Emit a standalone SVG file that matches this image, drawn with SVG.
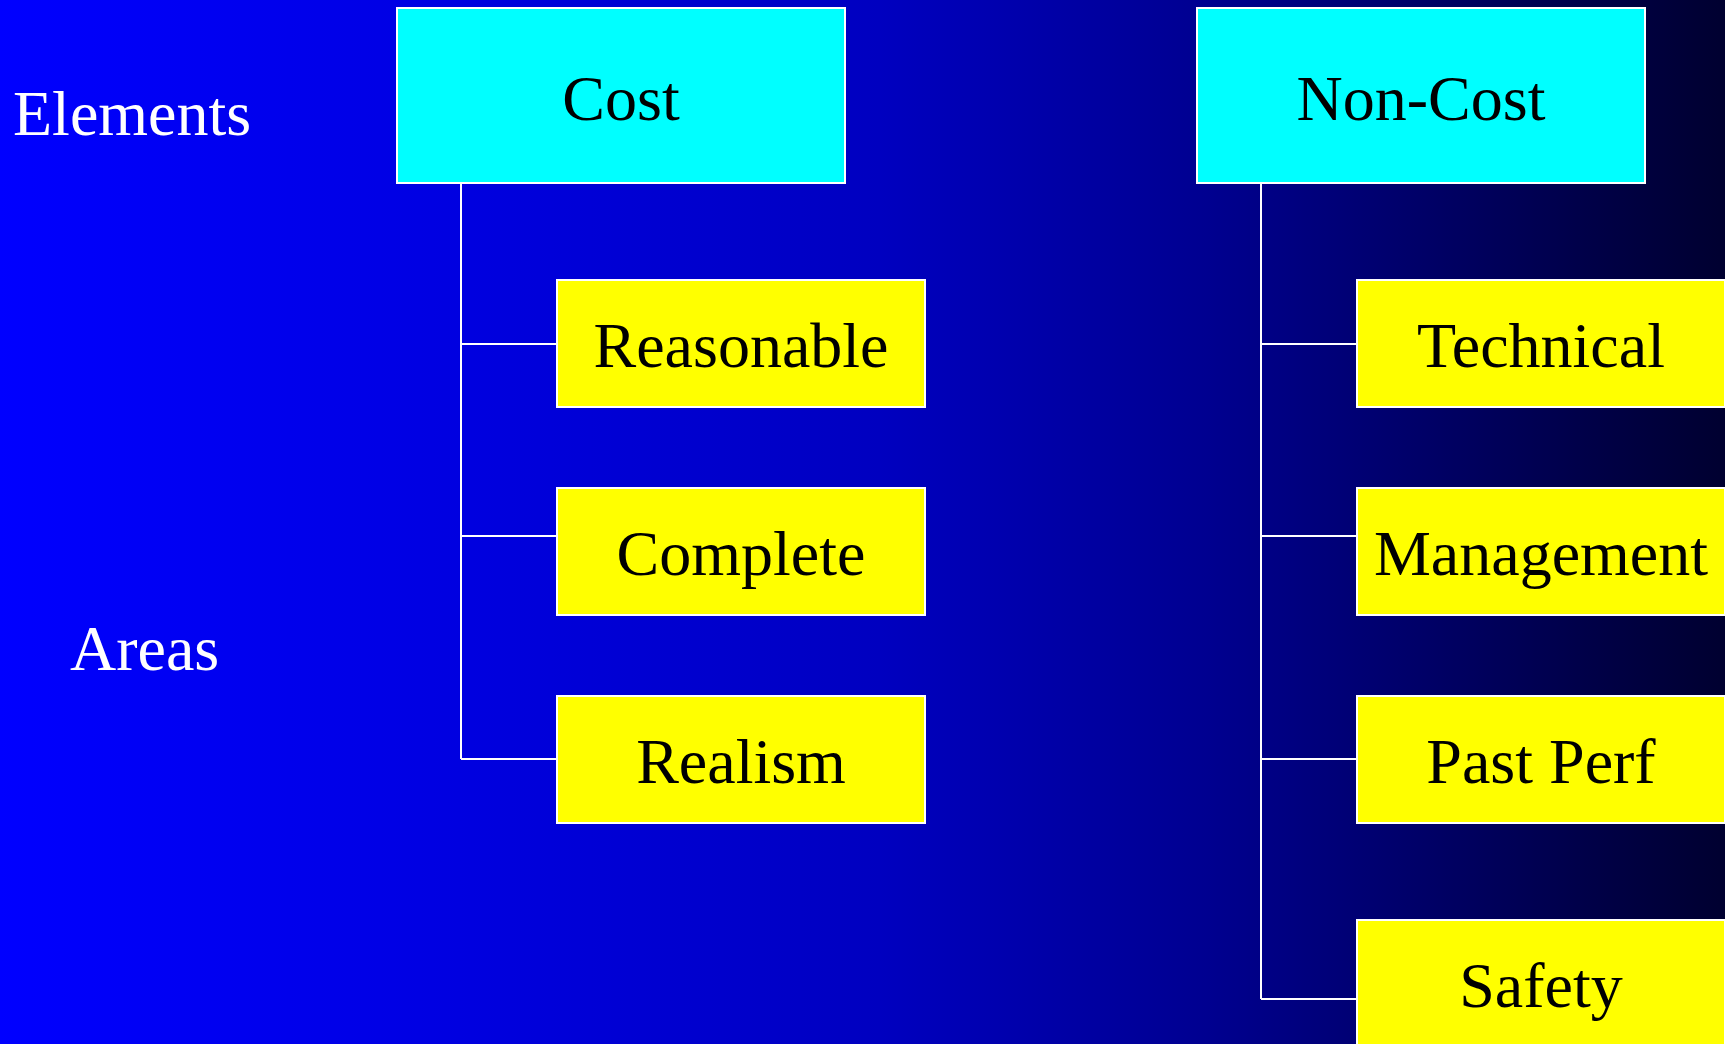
<svg xmlns="http://www.w3.org/2000/svg" width="1725" height="1044" viewBox="0 0 1725 1044">
<defs>
<linearGradient id="bg" x1="0" y1="0" x2="1" y2="0">
<stop offset="0" stop-color="#0000ff"/>
<stop offset="0.22" stop-color="#0000e6"/>
<stop offset="0.51" stop-color="#0000c0"/>
<stop offset="0.7" stop-color="#000090"/>
<stop offset="0.93" stop-color="#000045"/>
<stop offset="1" stop-color="#000030"/>
</linearGradient>
</defs>
<style>
.head rect{fill:#00ffff;stroke:#ffffff;stroke-width:2}
.leaf rect{fill:#ffff00;stroke:#ffffff;stroke-width:2}
text{font-family:"Liberation Serif","Times New Roman",serif;font-size:64px}
.node text{fill:#000000;text-anchor:middle}
.lbl{fill:#ffffff}
.conn line{stroke:#ffffff;stroke-width:2}
</style>
<rect x="0" y="0" width="1725" height="1044" fill="url(#bg)"/>
<text class="lbl" x="13" y="135">Elements</text>
<text class="lbl" x="70" y="670">Areas</text>
<g class="conn">
<line x1="461" y1="184" x2="461" y2="759"/>
<line x1="461" y1="344" x2="557" y2="344"/>
<line x1="461" y1="536" x2="557" y2="536"/>
<line x1="461" y1="759" x2="557" y2="759"/>
<line x1="1261" y1="184" x2="1261" y2="999"/>
<line x1="1261" y1="344" x2="1357" y2="344"/>
<line x1="1261" y1="536" x2="1357" y2="536"/>
<line x1="1261" y1="759" x2="1357" y2="759"/>
<line x1="1261" y1="999" x2="1357" y2="999"/>
</g>
<g id="cost" class="node head"><rect x="397" y="8" width="448" height="175"/><text x="621" y="120">Cost</text></g>
<g id="noncost" class="node head"><rect x="1197" y="8" width="448" height="175"/><text x="1421" y="120">Non-Cost</text></g>
<g id="reasonable" class="node leaf"><rect x="557" y="280" width="368" height="127"/><text x="741" y="367">Reasonable</text></g>
<g id="complete" class="node leaf"><rect x="557" y="488" width="368" height="127"/><text x="741" y="575">Complete</text></g>
<g id="realism" class="node leaf"><rect x="557" y="696" width="368" height="127"/><text x="741" y="783">Realism</text></g>
<g id="technical" class="node leaf"><rect x="1357" y="280" width="368" height="127"/><text x="1541" y="367">Technical</text></g>
<g id="management" class="node leaf"><rect x="1357" y="488" width="368" height="127"/><text x="1541" y="575">Management</text></g>
<g id="pastperf" class="node leaf"><rect x="1357" y="696" width="368" height="127"/><text x="1541" y="783">Past Perf</text></g>
<g id="safety" class="node leaf"><rect x="1357" y="920" width="368" height="127"/><text x="1541" y="1007">Safety</text></g>
</svg>
